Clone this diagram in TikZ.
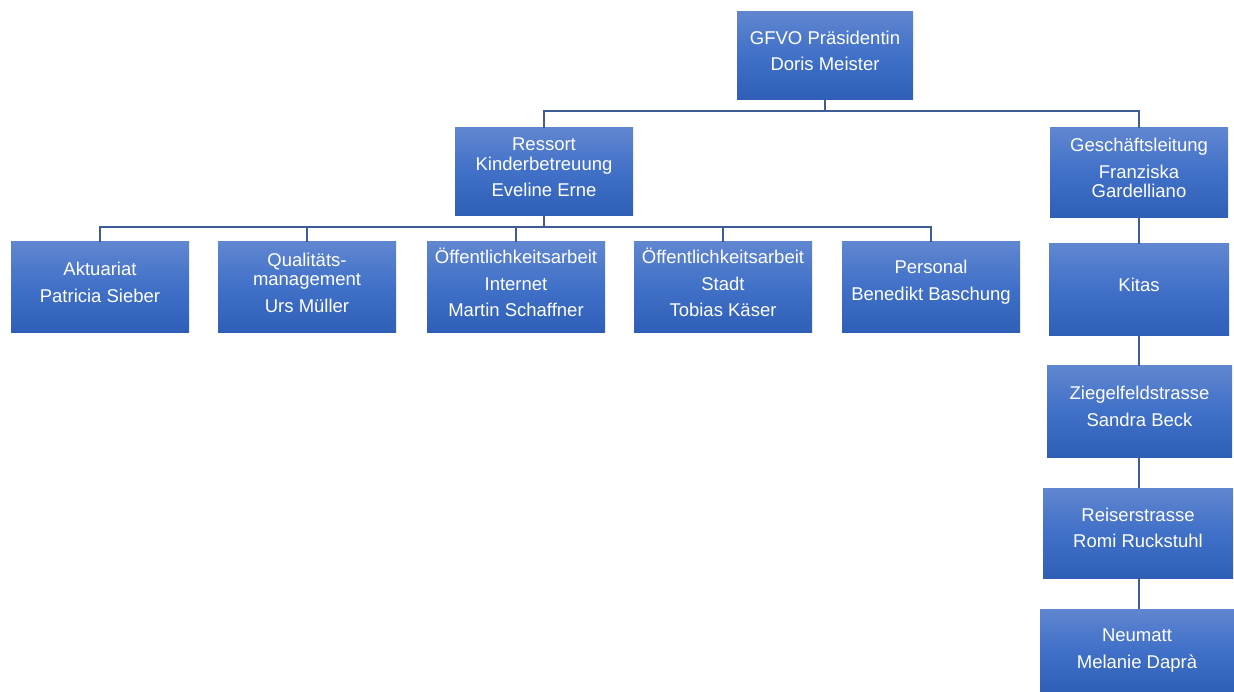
\documentclass[tikz,border=0pt]{standalone}
\usepackage{fontspec}
\setmainfont{Liberation Sans}
\definecolor{boxtop}{RGB}{96,134,208}
\definecolor{boxmid}{RGB}{64,112,200}
\definecolor{boxbot}{RGB}{46,94,182}
\definecolor{linec}{RGB}{62,92,152}
\tikzset{
  orgbox/.style={rectangle, inner sep=0pt, top color=boxtop, bottom color=boxbot, middle color=boxmid},
  orgtext/.style={inner sep=0pt, text=white, align=center, font=\fontsize{18.5}{19.2}\selectfont},
  conn/.style={draw=linec, line width=1.2pt},
}
\begin{document}
\begin{tikzpicture}[x=1pt,y=-1pt]
\useasboundingbox (0,0) rectangle (1234,692);
% top
\node[orgbox, minimum width=176pt, minimum height=88pt] (gfvo) at (825,56) {};
\node[orgbox, minimum width=178pt, minimum height=88pt] (ress) at (544,172) {};
\node[orgbox, minimum width=178pt, minimum height=90pt] (gesch) at (1139,173) {};
% level 3
\node[orgbox, minimum width=178pt, minimum height=91pt] (akt) at (100,287.5) {};
\node[orgbox, minimum width=178pt, minimum height=91pt] (qual) at (307,287.5) {};
\node[orgbox, minimum width=178pt, minimum height=91pt] (oint) at (516,287.5) {};
\node[orgbox, minimum width=178pt, minimum height=91pt] (ostadt) at (723,287.5) {};
\node[orgbox, minimum width=178pt, minimum height=91pt] (pers) at (931,287.5) {};
% right column
\node[orgbox, minimum width=180pt, minimum height=92pt] (kitas) at (1139,290) {};
\node[orgbox, minimum width=185pt, minimum height=91pt] (ziegel) at (1139.5,411.5) {};
\node[orgbox, minimum width=190pt, minimum height=90pt] (reiser) at (1138,533) {};
\node[orgbox, minimum width=194pt, minimum height=83pt] (neu) at (1137,650.5) {};
% texts
\node[orgtext] (gfvo-t) at ([yshift=5pt]gfvo.center) {GFVO Präsidentin\\[7.5pt]Doris Meister};
\node[orgtext] (ress-t) at ([yshift=4.5pt]ress.center) {Ressort\\Kinderbetreuung\\[7.5pt]Eveline Erne};
\node[orgtext] (gesch-t) at ([yshift=5pt]gesch.center) {Geschäftsleitung\\[7.5pt]Franziska\\Gardelliano};
\node[orgtext] (akt-t) at ([yshift=5pt]akt.center) {Aktuariat\\[7.5pt]Patricia Sieber};
\node[orgtext] (qual-t) at ([yshift=5pt]qual.center) {Qualitäts-\\management\\[7.5pt]Urs Müller};
\node[orgtext] (oint-t) at ([yshift=5pt]oint.center) {Öffentlichkeitsarbeit\\[7.5pt]Internet\\[7.5pt]Martin Schaffner};
\node[orgtext] (ostadt-t) at ([yshift=5pt]ostadt.center) {Öffentlichkeitsarbeit\\[7.5pt]Stadt\\[7.5pt]Tobias Käser};
\node[orgtext] (pers-t) at ([yshift=5pt]pers.center) {Personal\\[7.5pt]Benedikt Baschung};
\node[orgtext] (kitas-t) at ([yshift=5pt]kitas.center) {Kitas};
\node[orgtext] (ziegel-t) at ([yshift=5pt]ziegel.center) {Ziegelfeldstrasse\\[7.5pt]Sandra Beck};
\node[orgtext] (reiser-t) at ([yshift=5pt]reiser.center) {Reiserstrasse\\[7.5pt]Romi Ruckstuhl};
\node[orgtext] (neu-t) at ([yshift=0pt]neu.center) {Neumatt\\[7.5pt]Melanie Daprà};
% connectors
\coordinate (j1) at (825,111);
\coordinate (j2) at (544,227);
\draw[conn] (gfvo.south) -- (j1);
\draw[conn] (j1) -| (ress.north);
\draw[conn] (j1) -| (gesch.north);
\draw[conn] (ress.south) -- (j2);
\draw[conn] (j2) -| (akt.north);
\draw[conn] (j2) -| (qual.north);
\draw[conn] (j2) -| (oint.north);
\draw[conn] (j2) -| (ostadt.north);
\draw[conn] (j2) -| (pers.north);
\draw[conn] (gesch.south) -- (gesch.south |- kitas.north);
\draw[conn] (kitas.south) -- (kitas.south |- ziegel.north);
\draw[conn] (gesch.south |- ziegel.south) -- (gesch.south |- reiser.north);
\draw[conn] (gesch.south |- reiser.south) -- (gesch.south |- neu.north);
\end{tikzpicture}
\end{document}
